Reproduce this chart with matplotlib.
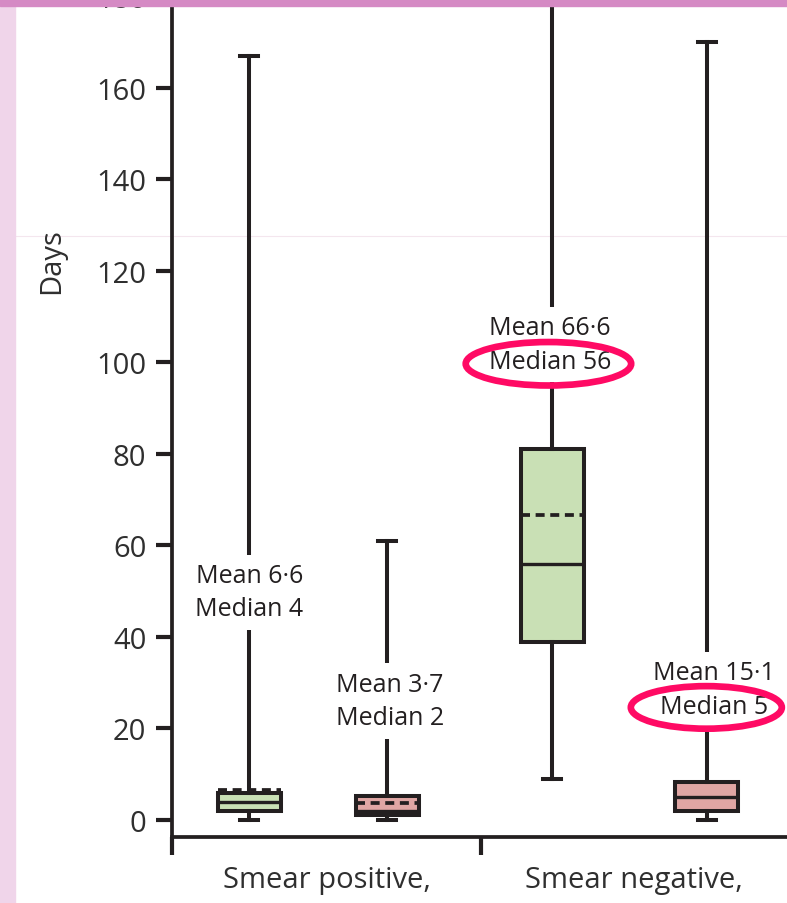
import numpy as np
import matplotlib.pyplot as plt
from matplotlib.patches import Ellipse, Rectangle
from matplotlib.lines import Line2D

plt.rcParams['font.family'] = ['Open Sans', 'DejaVu Sans']

# data (days)
groups = ['Smear positive,', 'Smear negative,']
q1 = [2, 1, 39, 2]
medians = [4, 2, 56, 5]
q3 = [6, 5.3, 81, 8.3]
means = [6.6, 3.7, 66.6, 15.1]
whis_lo = [0, 0, 9, 0]
whis_hi = [167, 61, 200, 170]
mean_labels = ['6·6', '3·7', '66·6', '15·1']
median_labels = ['4', '2', '56', '5']
yticks = np.arange(0, 181, 20)

# layout
positions = [1.0, 2.0, 3.196, 4.319]
group_centres = [1.565, 3.79]
group_edges = [0.44, 2.681]
label_pos = [(1.0, 49.8), (2.02, 26.0), (3.18, 103.9), (4.37, 28.5)]
fills = ['#c9e0b5', '#e0a6a4', '#c9e0b5', '#e0a6a4']
dark = '#231f20'
ring = '#ff0a64'

fig = plt.figure(figsize=(7.87, 9.04), dpi=100)
ax = fig.add_axes([172/787, 66/904, 615/787, 848/904])
ax.set_facecolor('none')

stats = []
for i in range(len(q1)):
    stats.append(dict(q1=q1[i], med=medians[i], q3=q3[i], mean=means[i],
                      whislo=whis_lo[i], whishi=whis_hi[i]))

bp = ax.bxp(stats, positions=positions, widths=0.457, capwidths=0.13,
            patch_artist=True, showmeans=True, meanline=True, showfliers=False,
            boxprops=dict(lw=2.9, edgecolor=dark),
            medianprops=dict(color=dark, lw=2.4),
            meanprops=dict(color=dark, lw=2.7, linestyle=(0, (2.4, 1.5))),
            whiskerprops=dict(color=dark, lw=2.9),
            capprops=dict(color=dark, lw=2.9))
for box, c in zip(bp['boxes'], fills):
    box.set_facecolor(c)
# mean of the last group lies outside its box and is not drawn
bp['means'][3].set_visible(False)

for (x, y), m, md in zip(label_pos, mean_labels, median_labels):
    ax.text(x, y, f'Mean {m}\nMedian {md}', ha='center', va='center',
            fontsize=18, linespacing=1.45, color=dark, zorder=5,
            bbox=dict(fc='white', ec='none', pad=6))

ax.add_patch(Ellipse((3.17, 99.7), 1.2, 9.5, fill=False, ec=ring, lw=4.8, zorder=6))
ax.add_patch(Ellipse((4.315, 24.6), 1.095, 9.3, fill=False, ec=ring, lw=4.8, zorder=6))

ax.set_xlim(0.44, 4.9)
ax.set_ylim(-3.72, 181.6)
ax.set_yticks(yticks)
ax.tick_params(axis='y', labelsize=21, length=11.5, width=3, pad=7, colors=dark,
               labelcolor='#2f2f2f')
ax.set_xticks(group_edges)
ax.set_xticklabels([])
ax.set_xticks(group_centres, minor=True)
ax.set_xticklabels(groups, minor=True)
ax.tick_params(axis='x', which='major', length=13, width=3, colors=dark)
ax.tick_params(axis='x', which='minor', length=0, pad=20, labelsize=21,
               labelcolor='#2f2f2f')
for s in ['top', 'right']:
    ax.spines[s].set_visible(False)
for s in ['left', 'bottom']:
    ax.spines[s].set_linewidth(2.7)
    ax.spines[s].set_color(dark)

ax.set_ylabel('Days', fontsize=21, va='center', color='#2f2f2f')
ax.yaxis.set_label_coords(-0.195, 0.68)

# page decorations of the screenshot
fig.add_artist(Line2D([0, 1], [1 - 237/904] * 2, color='#f4e6ee', lw=0.8, zorder=-1))
fig.add_artist(Rectangle((0, 0), 15/787, 1, transform=fig.transFigure,
                         color='#f0d5ea', zorder=5))
fig.add_artist(Rectangle((0, 1 - 7/904), 1, 7/904, transform=fig.transFigure,
                         color='#d58ac4', zorder=5))

fig.savefig('out.png', dpi=100)
